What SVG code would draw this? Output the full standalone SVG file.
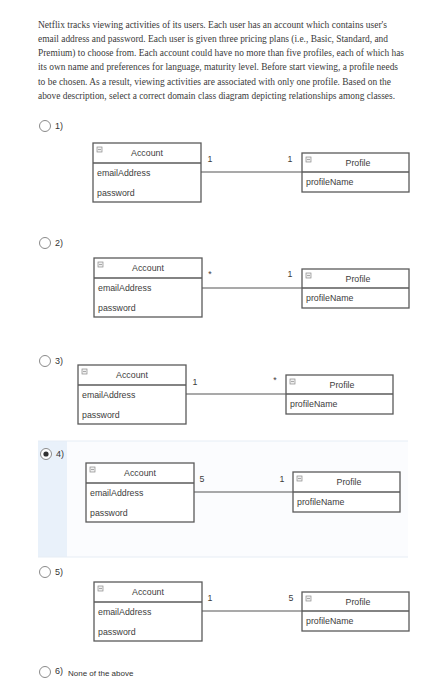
<svg xmlns="http://www.w3.org/2000/svg" width="442" height="700" viewBox="0 0 442 700">
<defs>
<style>
.q{font-family:"Liberation Serif","Times New Roman",serif;font-size:9.5px;fill:#3a3a3a}
.box{fill:#fff;stroke:#5a5a5a;stroke-width:1.3}
.div{stroke:#5a5a5a;stroke-width:1.3}
.t{font-family:"Liberation Sans",Arial,sans-serif;font-size:8.8px;fill:#3c3c3c}
.h{text-anchor:middle}
.ic{fill:#f0f0f0;stroke:#8a8a8a;stroke-width:0.7}
.icl{stroke:#8a8a8a;stroke-width:0.7}
.conn{stroke:#555;stroke-width:1.2;fill:none}
.m{font-family:"Liberation Sans",Arial,sans-serif;font-size:8.8px;fill:#3c3c3c;text-anchor:middle}
.rb{fill:#fff;stroke:#8a8a8a;stroke-width:1}
.rl{font-family:"Liberation Sans",Arial,sans-serif;font-size:9px;fill:#333}
</style>
<g id="icon"><rect class="ic" x="4" y="4" width="5" height="5"/><line class="icl" x1="5" y1="6.5" x2="8" y2="6.5"/></g>
</defs>
<rect width="442" height="700" fill="#fff"/>
<g id="question">
<text class="q" x="38" y="28" textLength="349" lengthAdjust="spacingAndGlyphs">Netflix tracks viewing activities of its users. Each user has an account which contains user's</text>
<text class="q" x="38" y="42" textLength="350" lengthAdjust="spacingAndGlyphs">email address and password. Each user is given three pricing plans (i.e., Basic, Standard, and</text>
<text class="q" x="38" y="56" textLength="366" lengthAdjust="spacingAndGlyphs">Premium) to choose from. Each account could have no more than five profiles, each of which has</text>
<text class="q" x="38" y="70" textLength="360" lengthAdjust="spacingAndGlyphs">its own name and preferences for language, maturity level. Before start viewing, a profile needs</text>
<text class="q" x="38" y="85" textLength="353" lengthAdjust="spacingAndGlyphs">to be chosen. As a result, viewing activities are associated with only one profile. Based on the</text>
<text class="q" x="38" y="99" textLength="357" lengthAdjust="spacingAndGlyphs">above description, select a correct domain class diagram depicting relationships among classes.</text>
</g>
<g id="highlight4">
<rect x="38" y="441" width="370" height="116" fill="#fbfcfe"/>
<rect x="38" y="441" width="29" height="116" fill="#e9f1fa"/>
<line x1="38" y1="441" x2="408" y2="441" stroke="#e6edf5" stroke-width="1"/>
<line x1="38" y1="557" x2="408" y2="557" stroke="#e6edf5" stroke-width="1"/>
</g>
<g id="options">
<g id="opt1"><circle class="rb" cx="45" cy="126" r="5.5"/><text class="rl" x="55" y="129">1)</text></g>
<g id="opt2"><circle class="rb" cx="45" cy="243" r="5.5"/><text class="rl" x="55" y="246">2)</text></g>
<g id="opt3"><circle class="rb" cx="45" cy="361" r="5.5"/><text class="rl" x="55" y="364">3)</text></g>
<g id="opt4"><circle class="rb" cx="46" cy="454" r="5.5" stroke="#555"/><circle cx="46" cy="454" r="2.6" fill="#333"/><text class="rl" x="56" y="457">4)</text></g>
<g id="opt5"><circle class="rb" cx="45" cy="572" r="5.5"/><text class="rl" x="55" y="575">5)</text></g>
<g id="opt6"><circle class="rb" cx="45" cy="672" r="5.5"/><text class="rl" x="55" y="674">6)</text><text class="rl" x="68" y="676" style="font-size:8px">None of the above</text></g>
</g>
<g id="connectors">
<line class="conn" x1="201" y1="172" x2="302" y2="172"/>
<line class="conn" x1="202" y1="288" x2="302" y2="288"/>
<line class="conn" x1="186" y1="394" x2="286" y2="394"/>
<line class="conn" x1="194" y1="492" x2="293" y2="492"/>
<line class="conn" x1="202" y1="611" x2="302" y2="611"/>
<text class="m" x="210" y="162">1</text><text class="m" x="290" y="162">1</text>
<text class="m" x="210" y="277">*</text><text class="m" x="290" y="277">1</text>
<text class="m" x="195" y="385">1</text><text class="m" x="275" y="383">*</text>
<text class="m" x="202" y="482">5</text><text class="m" x="282" y="482">1</text>
<text class="m" x="210" y="601">1</text><text class="m" x="291" y="601">5</text>
</g>
<g id="account1" transform="translate(93,143)"><rect class="box" width="108" height="59"/><line class="div" x1="0" y1="20" x2="108" y2="20"/><use href="#icon"/><text class="t h" x="54" y="13">Account</text><text class="t" x="4" y="33">emailAddress</text><text class="t" x="4" y="53">password</text></g>
<g id="profile1" transform="translate(302,153)"><rect class="box" width="107" height="39"/><line class="div" x1="0" y1="19" x2="107" y2="19"/><use href="#icon"/><text class="t h" x="56" y="13">Profile</text><text class="t" x="4" y="32">profileName</text></g>
<g id="account2" transform="translate(94,258)"><rect class="box" width="108" height="59"/><line class="div" x1="0" y1="20" x2="108" y2="20"/><use href="#icon"/><text class="t h" x="54" y="13">Account</text><text class="t" x="4" y="33">emailAddress</text><text class="t" x="4" y="53">password</text></g>
<g id="profile2" transform="translate(302,269)"><rect class="box" width="107" height="39"/><line class="div" x1="0" y1="19" x2="107" y2="19"/><use href="#icon"/><text class="t h" x="56" y="13">Profile</text><text class="t" x="4" y="32">profileName</text></g>
<g id="account3" transform="translate(78,365)"><rect class="box" width="108" height="59"/><line class="div" x1="0" y1="20" x2="108" y2="20"/><use href="#icon"/><text class="t h" x="54" y="13">Account</text><text class="t" x="4" y="33">emailAddress</text><text class="t" x="4" y="53">password</text></g>
<g id="profile3" transform="translate(286,375)"><rect class="box" width="107" height="39"/><line class="div" x1="0" y1="19" x2="107" y2="19"/><use href="#icon"/><text class="t h" x="56" y="13">Profile</text><text class="t" x="4" y="32">profileName</text></g>
<g id="account4" transform="translate(86,463)"><rect class="box" width="108" height="59"/><line class="div" x1="0" y1="20" x2="108" y2="20"/><use href="#icon"/><text class="t h" x="54" y="13">Account</text><text class="t" x="4" y="33">emailAddress</text><text class="t" x="4" y="53">password</text></g>
<g id="profile4" transform="translate(293,472)"><rect class="box" width="107" height="40"/><line class="div" x1="0" y1="20" x2="107" y2="20"/><use href="#icon"/><text class="t h" x="56" y="13">Profile</text><text class="t" x="4" y="33">profileName</text></g>
<g id="account5" transform="translate(94,582)"><rect class="box" width="108" height="59"/><line class="div" x1="0" y1="20" x2="108" y2="20"/><use href="#icon"/><text class="t h" x="54" y="13">Account</text><text class="t" x="4" y="33">emailAddress</text><text class="t" x="4" y="53">password</text></g>
<g id="profile5" transform="translate(302,592)"><rect class="box" width="107" height="39"/><line class="div" x1="0" y1="19" x2="107" y2="19"/><use href="#icon"/><text class="t h" x="56" y="13">Profile</text><text class="t" x="4" y="32">profileName</text></g>
</svg>
